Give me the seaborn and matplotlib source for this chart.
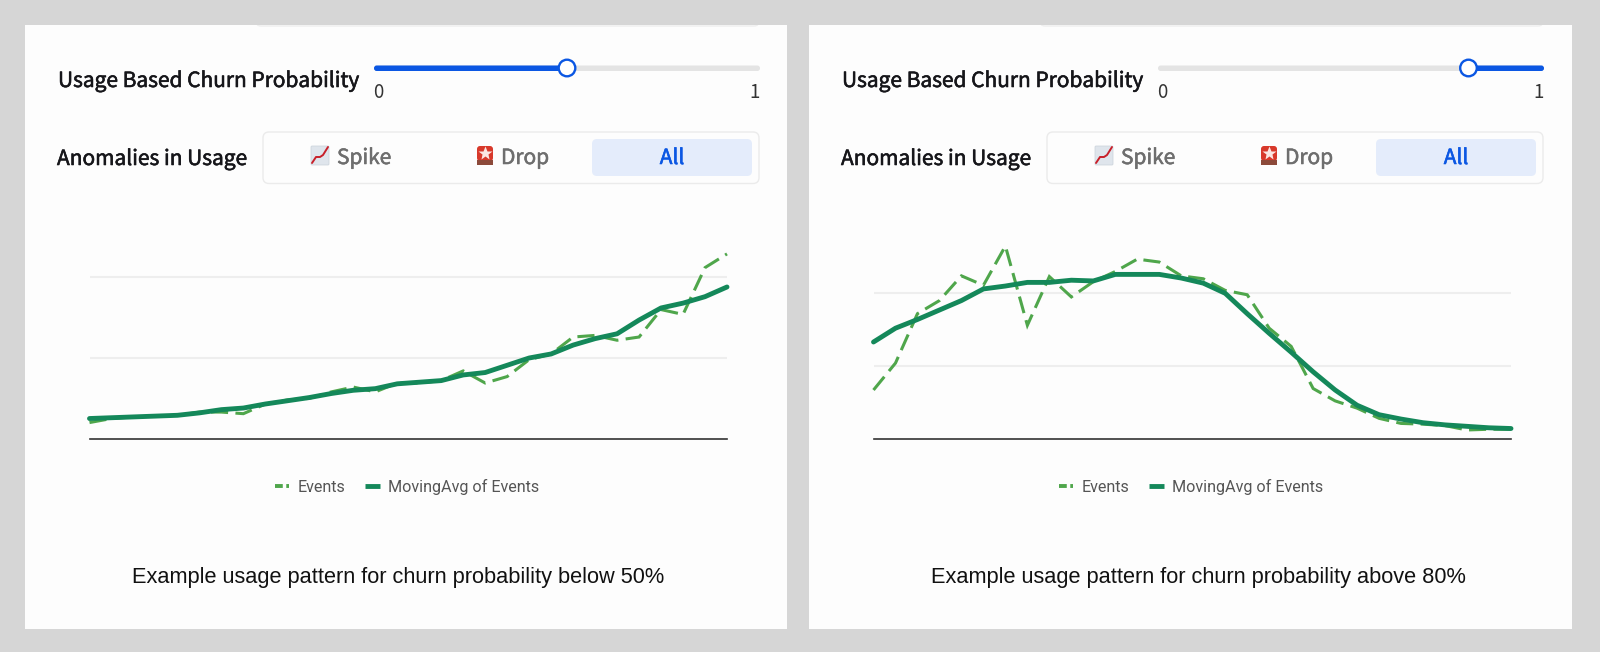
import matplotlib
matplotlib.use("Agg")
import matplotlib.patheffects as pe
import matplotlib.pyplot as plt
import pandas as pd
import seaborn as sns
from matplotlib.patches import Circle, FancyBboxPatch, Rectangle

W, H = 1600, 652
EVENTS_COLOR = "#4fa64b"
AVG_COLOR = "#14885a"
BLUE = "#0b57e3"
UI_FONT = ["Noto Sans CJK SC", "DejaVu Sans"]

steps = list(range(30))

low_events = [0.20, 0.25, 0.27, 0.28, 0.29, 0.33, 0.33, 0.31, 0.43, 0.48,
              0.50, 0.58, 0.64, 0.58, 0.69, 0.69, 0.72, 0.84, 0.69, 0.77,
              0.98, 1.05, 1.26, 1.28, 1.22, 1.26, 1.60, 1.54, 2.12, 2.29]
low_avg = [0.25, 0.26, 0.27, 0.28, 0.29, 0.32, 0.36, 0.38, 0.43, 0.47,
           0.51, 0.56, 0.60, 0.62, 0.68, 0.70, 0.72, 0.79, 0.82, 0.91,
           1.00, 1.05, 1.16, 1.24, 1.30, 1.47, 1.62, 1.68, 1.76, 1.88]

high_events = [0.67, 1.04, 1.72, 1.90, 2.24, 2.11, 2.65, 1.56, 2.23, 1.95,
               2.16, 2.30, 2.47, 2.43, 2.24, 2.20, 2.04, 1.98, 1.52, 1.27,
               0.69, 0.52, 0.42, 0.28, 0.21, 0.20, 0.18, 0.12, 0.13, 0.13]
high_avg = [1.33, 1.52, 1.64, 1.77, 1.90, 2.06, 2.10, 2.15, 2.15, 2.18,
            2.17, 2.26, 2.26, 2.26, 2.21, 2.14, 2.00, 1.72, 1.45, 1.19,
            0.92, 0.67, 0.46, 0.33, 0.27, 0.22, 0.19, 0.17, 0.15, 0.14]

grid_ticks = [1, 2]
captions = ["Example usage pattern for churn probability below 50%",
            "Example usage pattern for churn probability above 80%"]


def rounded(ui, x0, y0, x1, y1, r, **kw):
    ui.add_patch(FancyBboxPatch((x0 + r, y0 + r), x1 - x0 - 2 * r, y1 - y0 - 2 * r,
                                boxstyle=f"round,pad={r},rounding_size={r}", **kw))


def ui_label(ui, x, y, text, color, size=15.05, ha="left"):
    # the installed CJK face has no medium weight here, so thicken it a little
    t = ui.text(x, y, text, fontsize=size, family=UI_FONT, color=color, ha=ha, va="center")
    t.set_path_effects([pe.withStroke(linewidth=0.4, foreground=color)])


def draw_icons(ui, dx):
    # little chart and siren emoji, no emoji font available
    rounded(ui, 311 + dx, 146, 329 + dx, 165, 1, fc="#dfe5ec", ec="#c9d1da", lw=0.5)
    ui.plot([312 + dx, 316 + dx, 320 + dx, 323 + dx, 328 + dx],
            [163, 157, 157, 155, 147], color="#c8202a", lw=1.4)
    rounded(ui, 477 + dx, 146, 493 + dx, 161, 3, fc="#d8392b", ec="none")
    ui.add_patch(Rectangle((477 + dx, 160), 16, 5, fc="#8c4a3a", ec="none"))
    ui.plot([485 + dx], [153], marker="*", ms=10, mfc="#fbe6e2", mec="none")


def draw_controls(ui, dx, thumb_x, fill_right):
    rounded(ui, 256 + dx, 10, 759 + dx, 26, 5, fc="#fdfdfd", ec="#eeeeee", lw=1)
    ui.add_patch(Rectangle((0 + dx, 0), 790, 24.5, fc="#d6d6d6", ec="none", zorder=2))

    ui_label(ui, 58 + dx, 81, "Usage Based Churn Probability", "#16161a")
    rounded(ui, 374 + dx, 65.5, 760 + dx, 71, 2.7, fc="#e4e4e4", ec="none")
    if fill_right:
        rounded(ui, thumb_x, 65.5, 760 + dx, 71, 2.7, fc=BLUE, ec="none")
    else:
        rounded(ui, 374 + dx, 65.5, thumb_x, 71, 2.7, fc=BLUE, ec="none")
    ui.add_patch(Circle((thumb_x, 68), 8.3, fc="#ffffff", ec=BLUE, lw=1.7, zorder=3))
    ui.text(378 + dx, 92, "0", fontsize=13.5, family=UI_FONT, color="#333333", ha="center", va="center")
    ui.text(755 + dx, 92, "1", fontsize=13.5, family=UI_FONT, color="#333333", ha="center", va="center")

    ui_label(ui, 57 + dx, 159, "Anomalies in Usage", "#16161a")
    rounded(ui, 263 + dx, 132, 759 + dx, 183.5, 6, fc="#fdfdfd", ec="#ebebeb", lw=1)
    rounded(ui, 592 + dx, 139, 752 + dx, 176, 5, fc="#e4ecfb", ec="none")
    draw_icons(ui, dx)
    ui_label(ui, 337 + dx, 158, "Spike", "#6e6e6e")
    ui_label(ui, 501 + dx, 158, "Drop", "#6e6e6e")
    ui_label(ui, 672 + dx, 158, "All", BLUE, ha="center")


def draw_chart(fig, x0, events, avg, unit_px, legend_x):
    top, base = 240, 438.7
    ax = fig.add_axes([x0 / W, 1 - base / H, 637.5 / W, (base - top) / H])
    ax.patch.set_alpha(0)
    df = pd.DataFrame({"step": steps, "Events": events, "MovingAvg of Events": avg})
    sns.lineplot(data=df, x="step", y="Events", ax=ax, color=EVENTS_COLOR, lw=2.2,
                 label="Events", linestyle=(0, (5.6, 2.4)), clip_on=False, zorder=3,
                 dash_joinstyle="miter")
    sns.lineplot(data=df, x="step", y="MovingAvg of Events", ax=ax, color=AVG_COLOR, lw=3.5,
                 label="MovingAvg of Events", clip_on=False, zorder=4,
                 solid_capstyle="round", solid_joinstyle="round")
    ax.set_xlim(steps[0], steps[-1])
    ax.set_ylim(0, (base - top) / unit_px)
    ax.set_yticks(grid_ticks)
    ax.set_xticks([])
    ax.set_xlabel("")
    ax.set_ylabel("")
    ax.tick_params(left=False, labelleft=False)
    ax.grid(axis="y", color="#eeeeee", lw=1.5)
    ax.set_axisbelow(True)
    sns.despine(ax=ax, left=True)
    ax.spines["bottom"].set_color("#333333")
    ax.spines["bottom"].set_linewidth(1.2)

    leg = ax.legend(loc="center", bbox_to_anchor=(legend_x / W, 1 - 487 / H),
                    bbox_transform=fig.transFigure, frameon=False, ncol=2,
                    prop={"family": "Roboto", "size": 11.6}, labelcolor="#555555",
                    handlelength=0.9, handletextpad=0.5, columnspacing=1.25)
    leg.get_lines()[0].set_linestyle((0, (2.0, 0.9)))
    leg.get_lines()[0].set_linewidth(2.8)
    leg.get_lines()[1].set_solid_capstyle("butt")


sns.set_theme(style="white")
fig = plt.figure(figsize=(W / 100, H / 100), dpi=100, facecolor="#d6d6d6")

ui = fig.add_axes([0, 0, 1, 1])
ui.set_xlim(0, W)
ui.set_ylim(H, 0)
ui.axis("off")
ui.add_patch(Rectangle((24.5, 24.5), 762.5, 604, fc="#fdfdfd", ec="none"))
ui.add_patch(Rectangle((809, 24.5), 762.5, 604, fc="#fdfdfd", ec="none"))

draw_controls(ui, 0, 567, False)
draw_controls(ui, 784, 1468.5, True)

for cx, caption in zip([398, 1198], captions):
    ui.text(cx, 577, caption, fontsize=15.65, family="Liberation Sans", color="#111111",
            ha="center", va="center")

draw_chart(fig, 89.5, low_events, low_avg, 80.7, 407)
draw_chart(fig, 873.5, high_events, high_avg, 72.7, 1191)

fig.savefig("out.png", dpi=100, facecolor=fig.get_facecolor())
